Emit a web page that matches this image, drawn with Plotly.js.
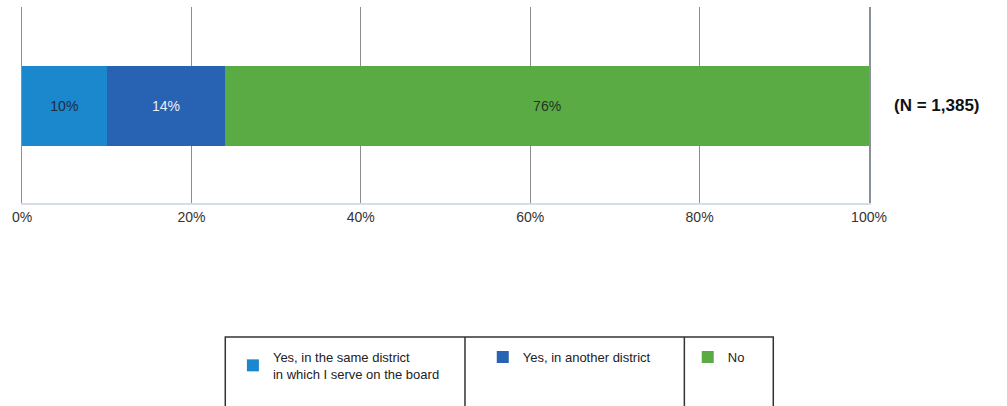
<!DOCTYPE html>
<html>
<head>
<meta charset="utf-8">
<script src="https://cdn.plot.ly/plotly-3.0.1.min.js"></script>
<style>
  html, body { margin: 0; padding: 0; background: #fff; }
  #plot { width: 1007px; height: 406px; }
</style>
</head>
<body>
<div id="plot"></div>
<script>
// single stacked bar, three answers
const categories = ["Respondents"];
const seriesNames = [
    "Yes, in the same district<br>in which I serve on the board",
    "Yes, in another district",
    "No"
];
const seriesValues = [10, 14, 76];
const seriesColors = ["#1b87cc", "#2763b2", "#5bab44"];
const labelColors = ["#1d2b44", "#e9eef7", "#243324"];
const tickVals = [0, 20, 40, 60, 80, 100];
const tickText = ["0%", "20%", "40%", "60%", "80%", "100%"];
const sampleNote = "(N = 1,385)";

const fontFam = "Liberation Sans, Arial, sans-serif";
const legendIds = ["legend", "legend2", "legend3"];

let data = seriesNames.map((name, i) => ({
    type: "bar",
    orientation: "h",
    name: name,
    legend: legendIds[i],
    y: categories,
    x: [seriesValues[i]],
    width: [0.408],
    text: [seriesValues[i] + "%"],
    textposition: "inside",
    insidetextanchor: "middle",
    textfont: { family: fontFam, size: 14, color: labelColors[i] },
    marker: { color: seriesColors[i], line: { width: 0 } },
    hoverinfo: "skip"
}));

// one legend per boxed cell
function cellLegend(x, valign) {
    return {
        orientation: "h",
        x: x,
        xanchor: "left",
        y: -0.709,
        yanchor: "top",
        valign: valign,
        borderwidth: 0,
        itemwidth: 30,
        bgcolor: "rgba(0,0,0,0)",
        font: { family: fontFam, size: 13, color: "#222" }
    };
}

let layout = {
    width: 1007,
    height: 406,
    barmode: "stack",
    showlegend: true,
    paper_bgcolor: "#ffffff",
    plot_bgcolor: "#ffffff",
    margin: { l: 22, r: 138, t: 7, b: 203, pad: 0 },
    font: { family: fontFam, size: 14, color: "#222" },
    xaxis: {
        range: [0, 100],
        tickvals: tickVals,
        ticktext: tickText,
        showgrid: true,
        gridcolor: "#8c8c8c",
        gridwidth: 1,
        zeroline: false,
        showline: true,
        linecolor: "#d6dce8",
        linewidth: 2,
        ticks: "",
        tickfont: { family: fontFam, size: 14, color: "#333" },
        fixedrange: true
    },
    yaxis: {
        range: [-0.495, 0.505],
        showticklabels: false,
        showgrid: false,
        zeroline: false,
        showline: true,
        mirror: true,
        linecolor: "#88909a",
        linewidth: 1.5,
        fixedrange: true
    },
    legend: cellLegend(0.249, "middle"),
    legend2: cellLegend(0.544, "top"),
    legend3: cellLegend(0.786, "top"),
    // legend frame and cell dividers
    shapes: [
        { type: "rect", xref: "paper", yref: "paper", x0: 0.240, x1: 0.887, y0: -1.066, y1: -0.684,
          line: { color: "#333", width: 1.5 } },
        { type: "line", xref: "paper", yref: "paper", x0: 0.523, x1: 0.523, y0: -1.066, y1: -0.684,
          line: { color: "#333", width: 1.5 } },
        { type: "line", xref: "paper", yref: "paper", x0: 0.782, x1: 0.782, y0: -1.066, y1: -0.684,
          line: { color: "#333", width: 1.5 } }
    ],
    annotations: [
        { text: "<b>" + sampleNote + "</b>", xref: "paper", yref: "y", x: 1.080, y: 0,
          showarrow: false, xanchor: "center",
          font: { family: fontFam, size: 17, color: "#111" } }
    ]
};

Plotly.newPlot("plot", data, layout, { displayModeBar: false, staticPlot: true });
</script>
</body>
</html>
